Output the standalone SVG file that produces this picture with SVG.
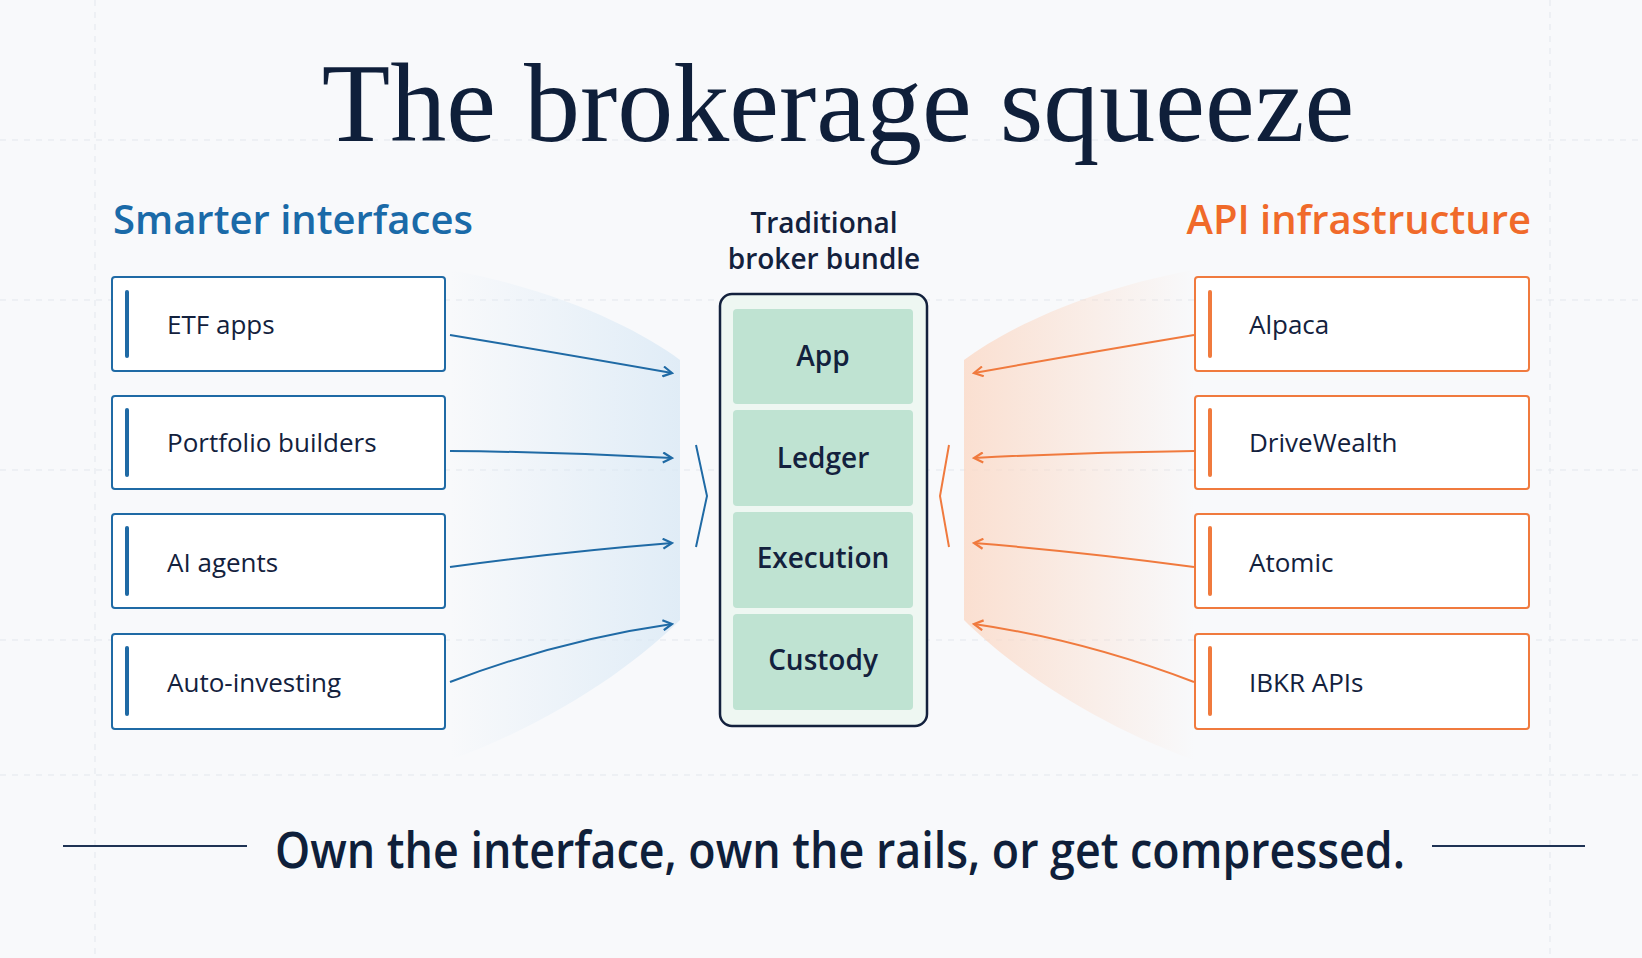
<svg xmlns="http://www.w3.org/2000/svg" width="1642" height="958" viewBox="0 0 1642 958">
<defs>
<style>
.lb{fill:#fff;stroke:#1f6aa5;stroke-width:2}
.rb{fill:#fff;stroke:#f07a3e;stroke-width:2}
.lbar{stroke:#1f6aa5;stroke-width:4;stroke-linecap:round}
.rbar{stroke:#f07a3e;stroke-width:4;stroke-linecap:round}
.t{font-family:"Open Sans","Liberation Sans",sans-serif;font-size:26px;fill:#13213d;font-weight:500}
.cell{fill:#bfe3d2;stroke:none}
.ct{font-family:"Open Sans","Liberation Sans",sans-serif;font-size:28px;fill:#13213d;font-weight:600;text-anchor:middle}
.la{stroke:#1f6aa5;stroke-width:2;fill:none;marker-end:url(#ab)}
.ra{stroke:#f07a3e;stroke-width:2;fill:none;marker-end:url(#ao)}
.grid{stroke:#e3e7ed;stroke-width:1;stroke-dasharray:6 6}
</style>
<marker id="ab" markerWidth="12" markerHeight="12" refX="10" refY="6" orient="auto" markerUnits="userSpaceOnUse"><path d="M1,1 L10,6 L1,11" fill="none" stroke="#1f6aa5" stroke-width="2.2"/></marker>
<marker id="ao" markerWidth="12" markerHeight="12" refX="10" refY="6" orient="auto" markerUnits="userSpaceOnUse"><path d="M1,1 L10,6 L1,11" fill="none" stroke="#f07a3e" stroke-width="2.2"/></marker>
<linearGradient id="gb" x1="0" x2="1"><stop offset="0" stop-color="#d8e8f5" stop-opacity="0"/><stop offset="1" stop-color="#d8e8f5" stop-opacity="0.75"/></linearGradient>
<linearGradient id="go" x1="1" x2="0"><stop offset="0" stop-color="#fbd9c6" stop-opacity="0"/><stop offset="1" stop-color="#fbd9c6" stop-opacity="0.8"/></linearGradient>
</defs>
<rect width="1642" height="958" fill="#f8f9fb"/>
<g>
<line class="grid" x1="0" y1="140" x2="1642" y2="140"/>
<line class="grid" x1="0" y1="300" x2="1642" y2="300"/>
<line class="grid" x1="0" y1="470" x2="1642" y2="470"/>
<line class="grid" x1="0" y1="640" x2="1642" y2="640"/>
<line class="grid" x1="0" y1="775" x2="1642" y2="775"/>
<line class="grid" x1="95" y1="0" x2="95" y2="958"/>
<line class="grid" x1="1550" y1="0" x2="1550" y2="958"/>
</g>
<path d="M450,270 C560,290 640,330 680,360 L680,620 C640,660 560,720 450,760 Z" fill="url(#gb)"/>
<path d="M1194,270 C1084,290 1004,330 964,360 L964,620 C1004,660 1084,720 1194,760 Z" fill="url(#go)"/>
<text x="838" y="141" text-anchor="middle" font-family="'Liberation Serif','DejaVu Serif',serif" font-size="112" fill="#0f1f3a">The brokerage squeeze</text>
<text x="113" y="234" font-family="'Open Sans','Liberation Sans',sans-serif" font-size="40" font-weight="600" fill="#1a6aa8">Smarter interfaces</text>
<text x="1531" y="234" text-anchor="end" font-family="'Open Sans','Liberation Sans',sans-serif" font-size="40" font-weight="600" fill="#f06a2a">API infrastructure</text>
<text x="824" y="233" class="ct" font-size="30">Traditional</text>
<text x="824" y="269" class="ct" font-size="30">broker bundle</text>

<g id="etf"><rect class="lb" x="112" y="277" width="333" height="94" rx="3"/><line class="lbar" x1="127" y1="292" x2="127" y2="356"/><text class="t" x="167" y="334">ETF apps</text></g>
<g id="portfolio"><rect class="lb" x="112" y="396" width="333" height="93" rx="3"/><line class="lbar" x1="127" y1="410" x2="127" y2="475"/><text class="t" x="167" y="452">Portfolio builders</text></g>
<g id="ai"><rect class="lb" x="112" y="514" width="333" height="94" rx="3"/><line class="lbar" x1="127" y1="528" x2="127" y2="594"/><text class="t" x="167" y="572">AI agents</text></g>
<g id="auto"><rect class="lb" x="112" y="634" width="333" height="95" rx="3"/><line class="lbar" x1="127" y1="648" x2="127" y2="714"/><text class="t" x="167" y="692">Auto-investing</text></g>

<g id="alpaca"><rect class="rb" x="1195" y="277" width="334" height="94" rx="3"/><line class="rbar" x1="1210" y1="292" x2="1210" y2="356"/><text class="t" x="1249" y="334">Alpaca</text></g>
<g id="drivewealth"><rect class="rb" x="1195" y="396" width="334" height="93" rx="3"/><line class="rbar" x1="1210" y1="410" x2="1210" y2="475"/><text class="t" x="1249" y="452">DriveWealth</text></g>
<g id="atomic"><rect class="rb" x="1195" y="514" width="334" height="94" rx="3"/><line class="rbar" x1="1210" y1="528" x2="1210" y2="594"/><text class="t" x="1249" y="572">Atomic</text></g>
<g id="ibkr"><rect class="rb" x="1195" y="634" width="334" height="95" rx="3"/><line class="rbar" x1="1210" y1="648" x2="1210" y2="714"/><text class="t" x="1249" y="692">IBKR APIs</text></g>

<g id="bundle">
<rect x="720" y="294" width="207" height="432" rx="12" fill="#eef7f2" stroke="#13213d" stroke-width="2.5"/>
<rect class="cell" x="733" y="309" width="180" height="95" rx="4"/><text class="ct" x="823" y="366">App</text>
<rect class="cell" x="733" y="410" width="180" height="96" rx="4"/><text class="ct" x="823" y="468">Ledger</text>
<rect class="cell" x="733" y="512" width="180" height="96" rx="4"/><text class="ct" x="823" y="568">Execution</text>
<rect class="cell" x="733" y="614" width="180" height="96" rx="4"/><text class="ct" x="823" y="670">Custody</text>
</g>

<g id="connectors">
<path class="la" d="M450,335 Q570,355 672,373"/>
<path class="la" d="M450,451 Q560,452 672,458"/>
<path class="la" d="M450,567 Q560,552 672,543"/>
<path class="la" d="M450,682 Q560,640 672,624"/>
<path class="ra" d="M1194,335 Q1074,355 974,373"/>
<path class="ra" d="M1194,451 Q1084,452 974,458"/>
<path class="ra" d="M1194,567 Q1084,552 974,543"/>
<path class="ra" d="M1194,682 Q1084,640 974,624"/>
<path d="M696,445 L707,496 L696,547" fill="none" stroke="#1f6aa5" stroke-width="2"/>
<path d="M949,445 L940,496 L949,547" fill="none" stroke="#f07a3e" stroke-width="2"/>
</g>

<line x1="63" y1="846" x2="247" y2="846" stroke="#1f3354" stroke-width="2"/>
<line x1="1432" y1="846" x2="1585" y2="846" stroke="#1f3354" stroke-width="2"/>
<text x="840" y="868" text-anchor="middle" font-family="'Open Sans','Liberation Sans',sans-serif" font-size="50" font-weight="600" fill="#0f1f3a" textLength="1130" lengthAdjust="spacingAndGlyphs">Own the interface, own the rails, or get compressed.</text>
</svg>
